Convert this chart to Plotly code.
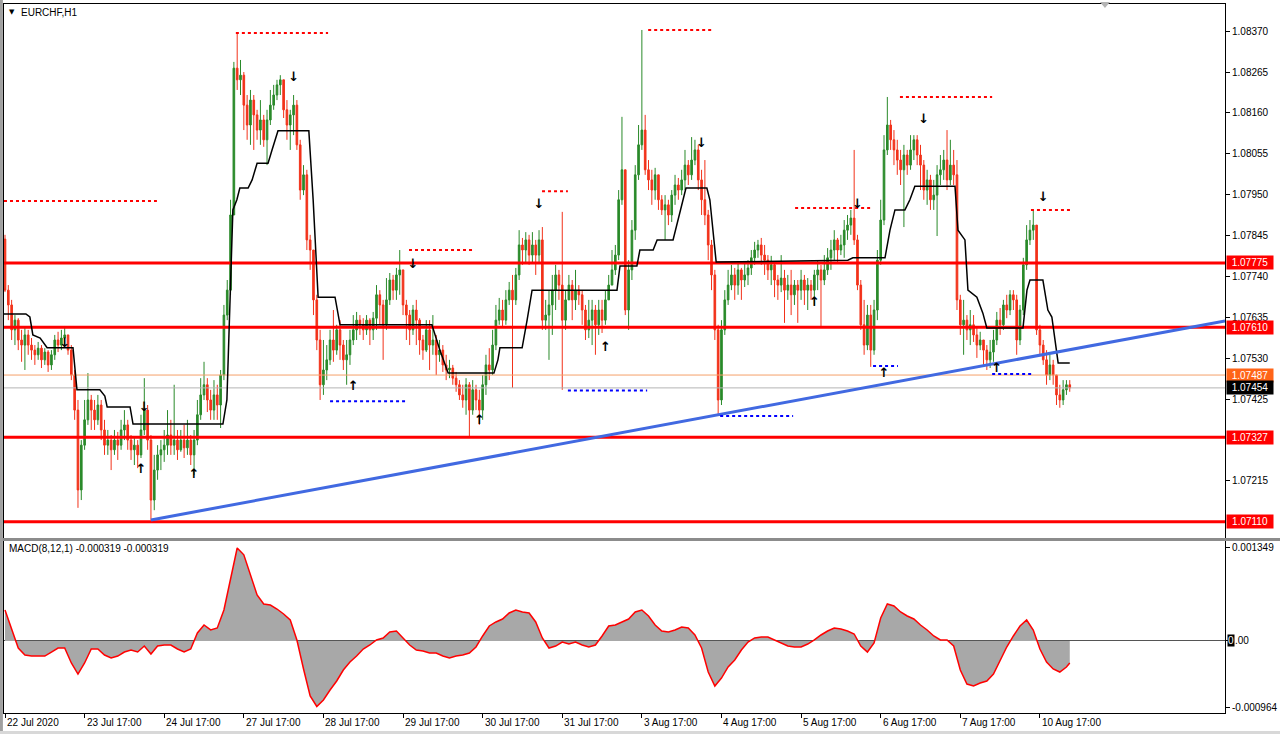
import plotly.graph_objects as go

# ---------------- data ----------------
first_open = 1.07836
closes = [
1.07705,1.07667,1.07603,1.07628,1.07577,1.07564,1.07590,1.07564,1.07551,1.07539,1.07556,1.07526,1.07546,1.07513,1.07539,1.07577,1.07564,1.07582,1.07590,1.07551,1.07487,1.07397,1.07192,1.07307,
1.07372,1.07423,1.07397,1.07372,1.07410,1.07346,1.07307,1.07320,1.07295,1.07320,1.07307,1.07346,1.07359,1.07320,1.07295,1.07307,1.07282,1.07346,1.07397,1.07320,1.07166,1.07243,1.07282,1.07295,
1.07307,1.07333,1.07307,1.07320,1.07295,1.07320,1.07300,1.07320,1.07282,1.07320,1.07385,1.07436,1.07462,1.07423,1.07397,1.07436,1.07410,1.07487,1.07641,1.07705,1.07898,1.08275,1.08245,1.08257,
1.08180,1.08129,1.08193,1.08155,1.08116,1.08142,1.08091,1.08142,1.08180,1.08206,1.08232,1.08245,1.08168,1.08129,1.08155,1.08180,1.08078,1.07962,1.08001,1.07834,1.07808,1.07680,1.07577,1.07462,
1.07500,1.07526,1.07577,1.07551,1.07603,1.07564,1.07526,1.07539,1.07577,1.07603,1.07628,1.07616,1.07603,1.07628,1.07603,1.07633,1.07693,1.07667,1.07616,1.07680,1.07731,1.07705,1.07744,1.07757,
1.07667,1.07641,1.07603,1.07654,1.07628,1.07577,1.07551,1.07603,1.07564,1.07577,1.07539,1.07551,1.07513,1.07500,1.07505,1.07479,1.07462,1.07436,1.07423,1.07462,1.07397,1.07449,1.07423,1.07397,
1.07462,1.07513,1.07500,1.07564,1.07628,1.07654,1.07628,1.07680,1.07705,1.07680,1.07744,1.07821,1.07808,1.07834,1.07795,1.07821,1.07795,1.07834,1.07628,1.07641,1.07667,1.07705,1.07744,1.07718,
1.07628,1.07680,1.07718,1.07680,1.07705,1.07693,1.07654,1.07603,1.07628,1.07654,1.07616,1.07654,1.07628,1.07680,1.07718,1.07757,1.07795,1.07937,1.08014,1.07654,1.07757,1.07859,1.08001,1.08078,
1.08116,1.08014,1.07988,1.07962,1.08001,1.07937,1.07911,1.07924,1.07898,1.07949,1.07975,1.07962,1.07988,1.08026,1.08001,1.08039,1.08065,1.07988,1.07937,1.07898,1.07821,1.07744,1.07603,1.07423,
1.07603,1.07680,1.07718,1.07744,1.07718,1.07757,1.07731,1.07744,1.07762,1.07788,1.07808,1.07821,1.07795,1.07782,1.07757,1.07770,1.07731,1.07718,1.07736,1.07705,1.07718,1.07693,1.07718,1.07705,
1.07731,1.07705,1.07718,1.07705,1.07744,1.07757,1.07731,1.07757,1.07788,1.07808,1.07834,1.07808,1.07821,1.07859,1.07872,1.07890,1.07834,1.07718,1.07616,1.07564,1.07641,1.07551,1.07654,1.07782,
1.07885,1.08065,1.08129,1.08091,1.08065,1.08039,1.08014,1.08052,1.08026,1.08065,1.08091,1.08052,1.08026,1.07962,1.07988,1.07937,1.07949,1.08001,1.08014,1.08039,1.07988,1.08026,1.08001,1.07680,
1.07616,1.07628,1.07603,1.07616,1.07590,1.07564,1.07577,1.07551,1.07526,1.07546,1.07577,1.07628,1.07616,1.07667,1.07654,1.07693,1.07680,1.07577,1.07654,1.07770,1.07834,1.07859,1.07872,1.07603,
1.07564,1.07526,1.07487,1.07513,1.07487,1.07436,1.07423,1.07449,1.07462,1.07454]
highs = [
1.07847,1.07718,1.07680,1.07641,1.07633,1.07603,1.07608,1.07603,1.07582,1.07564,1.07572,1.07564,1.07556,1.07551,1.07551,1.07590,1.07598,1.07603,1.07613,1.07590,1.07564,1.07500,1.07423,1.07320,
1.07423,1.07492,1.07436,1.07423,1.07436,1.07423,1.07372,1.07346,1.07333,1.07346,1.07341,1.07372,1.07397,1.07372,1.07333,1.07325,1.07320,1.07385,1.07479,1.07410,1.07333,1.07282,1.07307,1.07320,
1.07346,1.07397,1.07372,1.07462,1.07346,1.07346,1.07359,1.07372,1.07333,1.07346,1.07423,1.07479,1.07521,1.07479,1.07449,1.07474,1.07462,1.07500,1.07667,1.07731,1.07937,1.08291,1.08365,1.08296,
1.08265,1.08206,1.08219,1.08206,1.08168,1.08193,1.08155,1.08168,1.08219,1.08232,1.08245,1.08257,1.08245,1.08193,1.08168,1.08206,1.08193,1.08091,1.08026,1.08014,1.07847,1.07808,1.07693,1.07603,
1.07577,1.07564,1.07603,1.07654,1.07616,1.07628,1.07577,1.07577,1.07603,1.07641,1.07649,1.07641,1.07633,1.07641,1.07633,1.07649,1.07718,1.07705,1.07680,1.07736,1.07749,1.07744,1.07762,1.07808,
1.07757,1.07680,1.07654,1.07667,1.07680,1.07633,1.07590,1.07628,1.07628,1.07641,1.07590,1.07577,1.07564,1.07539,1.07526,1.07513,1.07495,1.07474,1.07462,1.07479,1.07469,1.07474,1.07462,1.07449,
1.07487,1.07539,1.07556,1.07603,1.07667,1.07685,1.07680,1.07705,1.07726,1.07744,1.07762,1.07859,1.07839,1.07854,1.07847,1.07854,1.07834,1.07859,1.07867,1.07680,1.07705,1.07744,1.07770,1.07757,
1.07906,1.07705,1.07744,1.07731,1.07757,1.07718,1.07705,1.07667,1.07680,1.07680,1.07667,1.07680,1.07680,1.07705,1.07744,1.07808,1.07821,1.07962,1.08150,1.08014,1.07782,1.07885,1.08026,1.08129,
1.08373,1.08155,1.08039,1.08014,1.08019,1.08001,1.07949,1.07949,1.07937,1.07962,1.08001,1.07993,1.08014,1.08065,1.08039,1.08098,1.08091,1.08078,1.08014,1.08039,1.07911,1.07834,1.07757,1.07616,
1.07628,1.07705,1.07757,1.07770,1.07762,1.07777,1.07762,1.07775,1.07782,1.07808,1.07829,1.07834,1.07839,1.07821,1.07795,1.07793,1.07777,1.07744,1.07795,1.07757,1.07744,1.07757,1.07731,1.07731,
1.07757,1.07744,1.07736,1.07731,1.07757,1.07782,1.07770,1.07795,1.07813,1.07834,1.07859,1.07839,1.07847,1.07885,1.07898,1.07911,1.08065,1.07847,1.07731,1.07680,1.07667,1.07667,1.07680,1.07808,
1.07937,1.08103,1.08201,1.08142,1.08116,1.08091,1.08065,1.08078,1.08065,1.08103,1.08103,1.08103,1.08078,1.08039,1.08014,1.08001,1.07988,1.08026,1.08052,1.08065,1.08116,1.08091,1.08065,1.08039,
1.07693,1.07680,1.07641,1.07654,1.07641,1.07608,1.07598,1.07577,1.07564,1.07577,1.07603,1.07649,1.07659,1.07680,1.07693,1.07705,1.07705,1.07693,1.07667,1.07788,1.07872,1.07885,1.07911,1.07867,
1.07616,1.07577,1.07551,1.07539,1.07526,1.07487,1.07462,1.07474,1.07474,1.07474]
lows = [
1.07700,1.07628,1.07577,1.07564,1.07551,1.07521,1.07500,1.07539,1.07526,1.07513,1.07526,1.07505,1.07513,1.07495,1.07500,1.07526,1.07546,1.07551,1.07564,1.07539,1.07474,1.07372,1.07146,1.07166,
1.07295,1.07359,1.07346,1.07346,1.07359,1.07320,1.07282,1.07282,1.07243,1.07282,1.07269,1.07295,1.07320,1.07295,1.07269,1.07256,1.07248,1.07274,1.07333,1.07295,1.07115,1.07140,1.07218,1.07243,
1.07264,1.07282,1.07282,1.07282,1.07269,1.07290,1.07274,1.07282,1.07256,1.07230,1.07307,1.07372,1.07423,1.07392,1.07372,1.07372,1.07372,1.07351,1.07474,1.07628,1.07693,1.07898,1.08219,1.08206,
1.08116,1.08091,1.08078,1.08065,1.08091,1.08078,1.08073,1.08026,1.08129,1.08168,1.08193,1.08206,1.08147,1.08091,1.08065,1.08103,1.08065,1.07937,1.07949,1.07808,1.07757,1.07641,1.07551,1.07423,
1.07436,1.07474,1.07513,1.07521,1.07539,1.07526,1.07500,1.07462,1.07513,1.07564,1.07577,1.07590,1.07577,1.07590,1.07564,1.07577,1.07603,1.07616,1.07526,1.07603,1.07667,1.07680,1.07680,1.07693,
1.07641,1.07577,1.07564,1.07590,1.07564,1.07539,1.07526,1.07546,1.07500,1.07539,1.07487,1.07521,1.07495,1.07474,1.07479,1.07462,1.07444,1.07423,1.07403,1.07385,1.07330,1.07385,1.07397,1.07359,
1.07372,1.07436,1.07474,1.07487,1.07551,1.07616,1.07608,1.07616,1.07667,1.07454,1.07667,1.07731,1.07770,1.07777,1.07770,1.07777,1.07744,1.07777,1.07603,1.07603,1.07526,1.07590,1.07654,1.07680,
1.07449,1.07603,1.07680,1.07628,1.07654,1.07667,1.07616,1.07577,1.07582,1.07564,1.07539,1.07590,1.07595,1.07616,1.07680,1.07718,1.07744,1.07782,1.07924,1.07641,1.07603,1.07731,1.07834,1.07988,
1.08065,1.08001,1.07962,1.07924,1.07937,1.07911,1.07898,1.07834,1.07872,1.07880,1.07924,1.07937,1.07949,1.07962,1.07975,1.07988,1.08026,1.07962,1.07898,1.07872,1.07782,1.07705,1.07577,1.07385,
1.07410,1.07590,1.07667,1.07705,1.07680,1.07693,1.07680,1.07713,1.07718,1.07744,1.07770,1.07788,1.07770,1.07744,1.07731,1.07718,1.07687,1.07680,1.07700,1.07621,1.07680,1.07641,1.07667,1.07621,
1.07680,1.07667,1.07654,1.07680,1.07667,1.07705,1.07613,1.07718,1.07744,1.07757,1.07782,1.07777,1.07795,1.07788,1.07834,1.07847,1.07821,1.07705,1.07603,1.07539,1.07551,1.07508,1.07539,1.07628,
1.07770,1.07872,1.08052,1.08065,1.08026,1.08001,1.07975,1.07867,1.08001,1.08014,1.08039,1.08026,1.07962,1.07937,1.07924,1.07911,1.07911,1.07844,1.07975,1.07988,1.07962,1.07975,1.07975,1.07654,
1.07590,1.07539,1.07577,1.07564,1.07572,1.07531,1.07551,1.07513,1.07500,1.07505,1.07521,1.07564,1.07590,1.07603,1.07633,1.07641,1.07654,1.07539,1.07564,1.07641,1.07757,1.07821,1.07834,1.07590,
1.07539,1.07513,1.07462,1.07474,1.07462,1.07410,1.07403,1.07410,1.07436,1.07444]

tick_bars = [0, 24, 48, 72, 96, 120, 144, 168, 192, 216, 240, 264, 288, 312]
tick_text = ["22 Jul 2020", "23 Jul 17:00", "24 Jul 17:00", "27 Jul 17:00", "28 Jul 17:00",
             "29 Jul 17:00", "30 Jul 17:00", "31 Jul 17:00", "3 Aug 17:00", "4 Aug 17:00",
             "5 Aug 17:00", "6 Aug 17:00", "7 Aug 17:00", "10 Aug 17:00"]
# 1.07320 and 1.07110 ticks are hidden behind the level labels in the reference
price_ticks = [1.08370, 1.08265, 1.08160, 1.08055, 1.07950, 1.07845, 1.07740,
               1.07635, 1.07530, 1.07425, 1.07215]

levels = [1.07775, 1.07610, 1.07327, 1.07110]
bid_level = 1.07487
last_level = 1.07454

trend_bar = [44, 367.8]
trend_price = [1.07115, 1.07626]

step_bar = [-0.3,6.3,7.5,8.4,10.6,12.7,20.5,21.7,28.6,30.1,30.8,37.7,38.6,65.7,66.9,67.8,68.7,69.9,70.8,73.3,
            74.5,76.0,79.3,80.5,82.3,91.6,92.9,94.4,99.5,101.0,128.7,131.1,133.6,147.4,148.6,149.2,155.9,157.4,
            158.9,184.5,185.4,190.5,191.4,195.4,196.6,201.4,203.5,205.3,211.6,212.5,214.4,254.1,255.6,265.3,
            266.8,268.3,271.3,272.8,274.3,286.4,287.3,289.4,290.3,293.0,294.8,296.0,306.9,308.1,309.0,312.9,
            314.4,315.6,317.5,321.0]
step_price = [1.07644,1.07644,1.07636,1.07590,1.07582,1.07557,1.07557,1.07449,1.07449,1.07433,1.07405,1.07405,
              1.07361,1.07361,1.07423,1.07680,1.07911,1.07937,1.07967,1.07967,1.07988,1.08031,1.08031,1.08065,
              1.08114,1.08114,1.07937,1.07687,1.07687,1.07616,1.07616,1.07551,1.07492,1.07492,1.07526,1.07557,
              1.07557,1.07628,1.07705,1.07705,1.07767,1.07767,1.07808,1.07808,1.07834,1.07834,1.07906,1.07967,
              1.07967,1.07937,1.07777,1.07782,1.07788,1.07788,1.07859,1.07911,1.07911,1.07937,1.07972,1.07972,
              1.07859,1.07834,1.07705,1.07687,1.07646,1.07608,1.07608,1.07705,1.07731,1.07731,1.07654,1.07636,
              1.07518,1.07518]

res_start = [-0.3, 69.6, 121.8, 161.9, 193.9, 238.2, 269.8, 309.3]
res_end = [45.8, 97.4, 141.7, 169.7, 213.4, 261.4, 297.6, 321.1]
res_price = [1.07934, 1.08365, 1.07808, 1.07959, 1.08373, 1.07916, 1.08201, 1.07911]
sup_start = [98.0, 169.7, 215.6, 261.7, 297.6]
sup_end = [121.5, 193.6, 237.6, 269.2, 309.6]
sup_price = [1.07420, 1.07447, 1.07382, 1.07510, 1.07490]

down_bar = [18, 42, 87, 123, 161, 210, 257, 277, 313]
down_price = [1.07567, 1.07402, 1.08250, 1.07770, 1.07924, 1.08080, 1.07924, 1.08142, 1.07942]
up_bar = [41, 57, 105, 143, 181, 244, 265, 299]
up_price = [1.07243, 1.07230, 1.07456, 1.07369, 1.07556, 1.07672, 1.07490, 1.07503]

macd_bar = list(range(0, 321, 2)) + [321]
macd_vals = [
0.000450,0.000160,-0.000102,-0.000203,-0.000218,-0.000218,-0.000218,-0.000160,-0.000102,-0.000102,
-0.000319,-0.000479,-0.000319,-0.000116,-0.000116,-0.000203,-0.000247,-0.000218,-0.000160,-0.000131,
-0.000160,-0.000073,-0.000189,-0.000073,-0.000058,-0.000058,-0.000116,-0.000160,-0.000116,0.000116,
0.000232,0.000160,0.000189,0.000450,0.000914,0.001349,0.001250,0.000943,0.000667,0.000537,
0.000522,0.000464,0.000392,0.000305,0.000015,-0.000406,-0.000798,-0.000950,-0.000856,-0.000711,
-0.000580,-0.000421,-0.000305,-0.000218,-0.000116,-0.000058,0.000015,0.000044,0.000131,0.000145,
0.000044,-0.000058,-0.000131,-0.000145,-0.000174,-0.000174,-0.000218,-0.000247,-0.000218,-0.000203,
-0.000174,-0.000087,0.000073,0.000218,0.000276,0.000319,0.000406,0.000450,0.000421,0.000406,
0.000276,0.000044,-0.000102,-0.000073,-0.000015,-0.000044,-0.000015,-0.000058,-0.000087,-0.000058,
0.000073,0.000218,0.000232,0.000276,0.000319,0.000421,0.000450,0.000363,0.000232,0.000145,
0.000131,0.000160,0.000203,0.000189,0.000087,-0.000102,-0.000450,-0.000653,-0.000537,-0.000377,
-0.000276,-0.000131,-0.000015,0.000044,0.000058,0.000058,0.000015,-0.000029,-0.000073,-0.000087,
-0.000087,-0.000044,0.000015,0.000087,0.000145,0.000189,0.000174,0.000145,0.000102,-0.000073,
-0.000160,-0.000029,0.000334,0.000537,0.000508,0.000421,0.000363,0.000319,0.000232,0.000160,
0.000073,0.000015,0.000015,-0.000073,-0.000421,-0.000624,-0.000653,-0.000609,-0.000580,-0.000479,
-0.000276,-0.000087,0.000073,0.000218,0.000305,0.000160,-0.000116,-0.000305,-0.000406,-0.000450,
-0.000377,-0.000319]
macd_max_label = 0.001349
macd_min_label = -0.000964

# ---------------- styling ----------------
FONT = "Tahoma, 'Liberation Sans', Arial, sans-serif"
FS = 10
GREEN = "#2A8A2A"
RED = "#F2321A"
X_RANGE = [-0.3, 367.8]

opens = [first_open] + closes[:-1]
bars = list(range(len(closes)))

fig = go.Figure()

# thin bid / last price lines (behind candles)
fig.add_trace(go.Scatter(x=X_RANGE, y=[bid_level, bid_level], mode="lines",
                         line=dict(color="#F5A06A", width=1), hoverinfo="skip", showlegend=False))
fig.add_trace(go.Scatter(x=X_RANGE, y=[last_level, last_level], mode="lines",
                         line=dict(color="#B4B4B4", width=1), hoverinfo="skip", showlegend=False))

fig.add_trace(go.Candlestick(
    x=bars, open=opens, high=highs, low=lows, close=closes,
    increasing=dict(line=dict(color=GREEN, width=1), fillcolor=GREEN),
    decreasing=dict(line=dict(color=RED, width=1), fillcolor=RED),
    whiskerwidth=0, hoverinfo="skip", showlegend=False))

for lv in levels:
    fig.add_trace(go.Scatter(x=X_RANGE, y=[lv, lv], mode="lines",
                             line=dict(color="#FF0000", width=3), hoverinfo="skip", showlegend=False))

fig.add_trace(go.Scatter(x=step_bar, y=step_price, mode="lines",
                         line=dict(color="black", width=1.5), hoverinfo="skip", showlegend=False))

fig.add_trace(go.Scatter(x=trend_bar, y=trend_price, mode="lines",
                         line=dict(color="#4169E1", width=3), hoverinfo="skip", showlegend=False))

def seg_xy(starts, ends, prices):
    xs, ys = [], []
    for s, e, p in zip(starts, ends, prices):
        xs += [s, e, None]
        ys += [p, p, None]
    return xs, ys

rx, ry = seg_xy(res_start, res_end, res_price)
fig.add_trace(go.Scatter(x=rx, y=ry, mode="lines", line=dict(color="#FF0000", width=2, dash="dot"),
                         hoverinfo="skip", showlegend=False))
sx, sy = seg_xy(sup_start, sup_end, sup_price)
fig.add_trace(go.Scatter(x=sx, y=sy, mode="lines", line=dict(color="#0000FF", width=2, dash="dot"),
                         hoverinfo="skip", showlegend=False))

fig.add_trace(go.Scatter(x=down_bar, y=down_price, mode="text", text=["<b>↓</b>"] * len(down_bar),
                         textfont=dict(family="DejaVu Sans", size=13, color="black"),
                         hoverinfo="skip", showlegend=False))
fig.add_trace(go.Scatter(x=up_bar, y=up_price, mode="text", text=["<b>↑</b>"] * len(up_bar),
                         textfont=dict(family="DejaVu Sans", size=13, color="black"),
                         hoverinfo="skip", showlegend=False))

# MACD panel
fig.add_trace(go.Scatter(x=macd_bar, y=macd_vals, mode="lines", fill="tozeroy",
                         fillcolor="#A8A8A8", line=dict(color="#A8A8A8", width=0),
                         xaxis="x2", yaxis="y2", hoverinfo="skip", showlegend=False))
fig.add_trace(go.Scatter(x=macd_bar, y=macd_vals, mode="lines",
                         line=dict(color="#FF0000", width=1.5),
                         xaxis="x2", yaxis="y2", hoverinfo="skip", showlegend=False))

MAIN_DOM = [0.24683, 1.0]
MACD_DOM = [0.0, 0.24260]

axis_common = dict(showgrid=False, zeroline=False, showline=True, mirror=True,
                   linecolor="black", linewidth=1, fixedrange=True, automargin=False)

def level_label(y, color):
    return dict(xref="paper", x=1, xanchor="left", xshift=1, yref="y", y=y, yanchor="middle",
                text=f"{y:.5f}", showarrow=False, bgcolor=color, width=44, align="center",
                font=dict(family=FONT, size=FS, color="white"), borderpad=1)

annotations = [level_label(lv, "#FF0000") for lv in levels]
annotations.append(level_label(bid_level, "#FF6418"))
annotations.append(level_label(last_level, "black"))
for b, t in zip(tick_bars, tick_text):
    annotations.append(dict(xref="x2", x=b, xanchor="left", xshift=0, yref="paper", y=-0.0127,
                            yanchor="middle", text=t, showarrow=False,
                            font=dict(family=FONT, size=FS, color="black")))
annotations.append(dict(xref="paper", x=0.0123, xanchor="left", yref="paper", y=0.9887, yanchor="middle",
                        text="EURCHF,H1", showarrow=False, font=dict(family=FONT, size=FS, color="black")))
annotations.append(dict(xref="paper", x=0.0025, xanchor="left", yref="paper", y=0.9887, yanchor="middle",
                        text="▼", showarrow=False, font=dict(family="DejaVu Sans", size=7, color="black")))
annotations.append(dict(xref="paper", x=0.0025, xanchor="left", yref="paper", y=0.2327, yanchor="middle",
                        text="MACD(8,12,1) -0.000319 -0.000319", showarrow=False,
                        font=dict(family=FONT, size=FS, color="black")))
annotations.append(dict(xref="paper", x=1, xanchor="left", xshift=2, yref="y2", y=0, yanchor="middle",
                        text="0", showarrow=False, bgcolor="black", borderpad=0,
                        font=dict(family=FONT, size=FS, color="white")))
annotations.append(dict(xref="paper", x=1, xanchor="left", xshift=8, yref="y2", y=0, yanchor="middle",
                        text=".00", showarrow=False, font=dict(family=FONT, size=FS, color="black")))

shapes = [
    dict(type="rect", xref="paper", yref="paper", x0=-0.01, x1=1.05, y0=MACD_DOM[1], y1=MAIN_DOM[0],
         fillcolor="#8C8C8C", line=dict(width=0), layer="above"),
    dict(type="rect", xref="paper", yref="paper", x0=-0.0033, x1=-0.0009, y0=-0.03, y1=1.006,
         fillcolor="#A0A0A0", line=dict(width=0), layer="above"),
    dict(type="rect", xref="paper", yref="paper", x0=-0.01, x1=1.05, y0=-0.0297, y1=-0.0255,
         fillcolor="#D8D8D8", line=dict(width=0), layer="above"),
    dict(type="path", xref="paper", yref="paper",
         path="M 0.8976 1.0028 L 0.9058 1.0028 L 0.9017 0.9944 Z",
         fillcolor="#B4B4B4", line=dict(width=0), layer="above"),
]

fig.update_layout(
    width=1280, height=734,
    margin=dict(l=4, r=55, t=4, b=21, autoexpand=False),
    paper_bgcolor="white", plot_bgcolor="white",
    showlegend=False, hovermode=False,
    font=dict(family=FONT, size=FS, color="black"),
    xaxis=dict(domain=[0, 1], range=X_RANGE, anchor="y", showticklabels=False, ticks="",
               rangeslider=dict(visible=False), **axis_common),
    yaxis=dict(domain=MAIN_DOM, range=[1.070686, 1.084397], side="right", anchor="x",
               tickvals=price_ticks, ticktext=[f"{v:.5f}" for v in price_ticks],
               ticks="outside", ticklen=4, tickcolor="black",
               tickfont=dict(family=FONT, size=FS, color="black"), **axis_common),
    xaxis2=dict(domain=[0, 1], range=X_RANGE, anchor="y2", tickvals=tick_bars, ticks="outside",
                ticklen=4, tickcolor="black", showticklabels=False, **axis_common),
    yaxis2=dict(domain=MACD_DOM, range=[-0.0010444, 0.0014505], side="right", anchor="x2",
                tickvals=[macd_max_label, 0, macd_min_label],
                ticktext=[f"{macd_max_label:.6f}", "", f"{macd_min_label:.6f}"],
                ticks="outside", ticklen=4, tickcolor="black",
                tickfont=dict(family=FONT, size=FS, color="black"),
                showgrid=False, showline=True, mirror=True, linecolor="black", linewidth=1,
                zeroline=True, zerolinecolor="#555555", zerolinewidth=1, fixedrange=True,
                automargin=False),
    annotations=annotations,
    shapes=shapes,
)

fig.write_html("out.html", config={"displayModeBar": False},
               post_script="document.body.style.margin='0';document.body.style.overflow='hidden';")
